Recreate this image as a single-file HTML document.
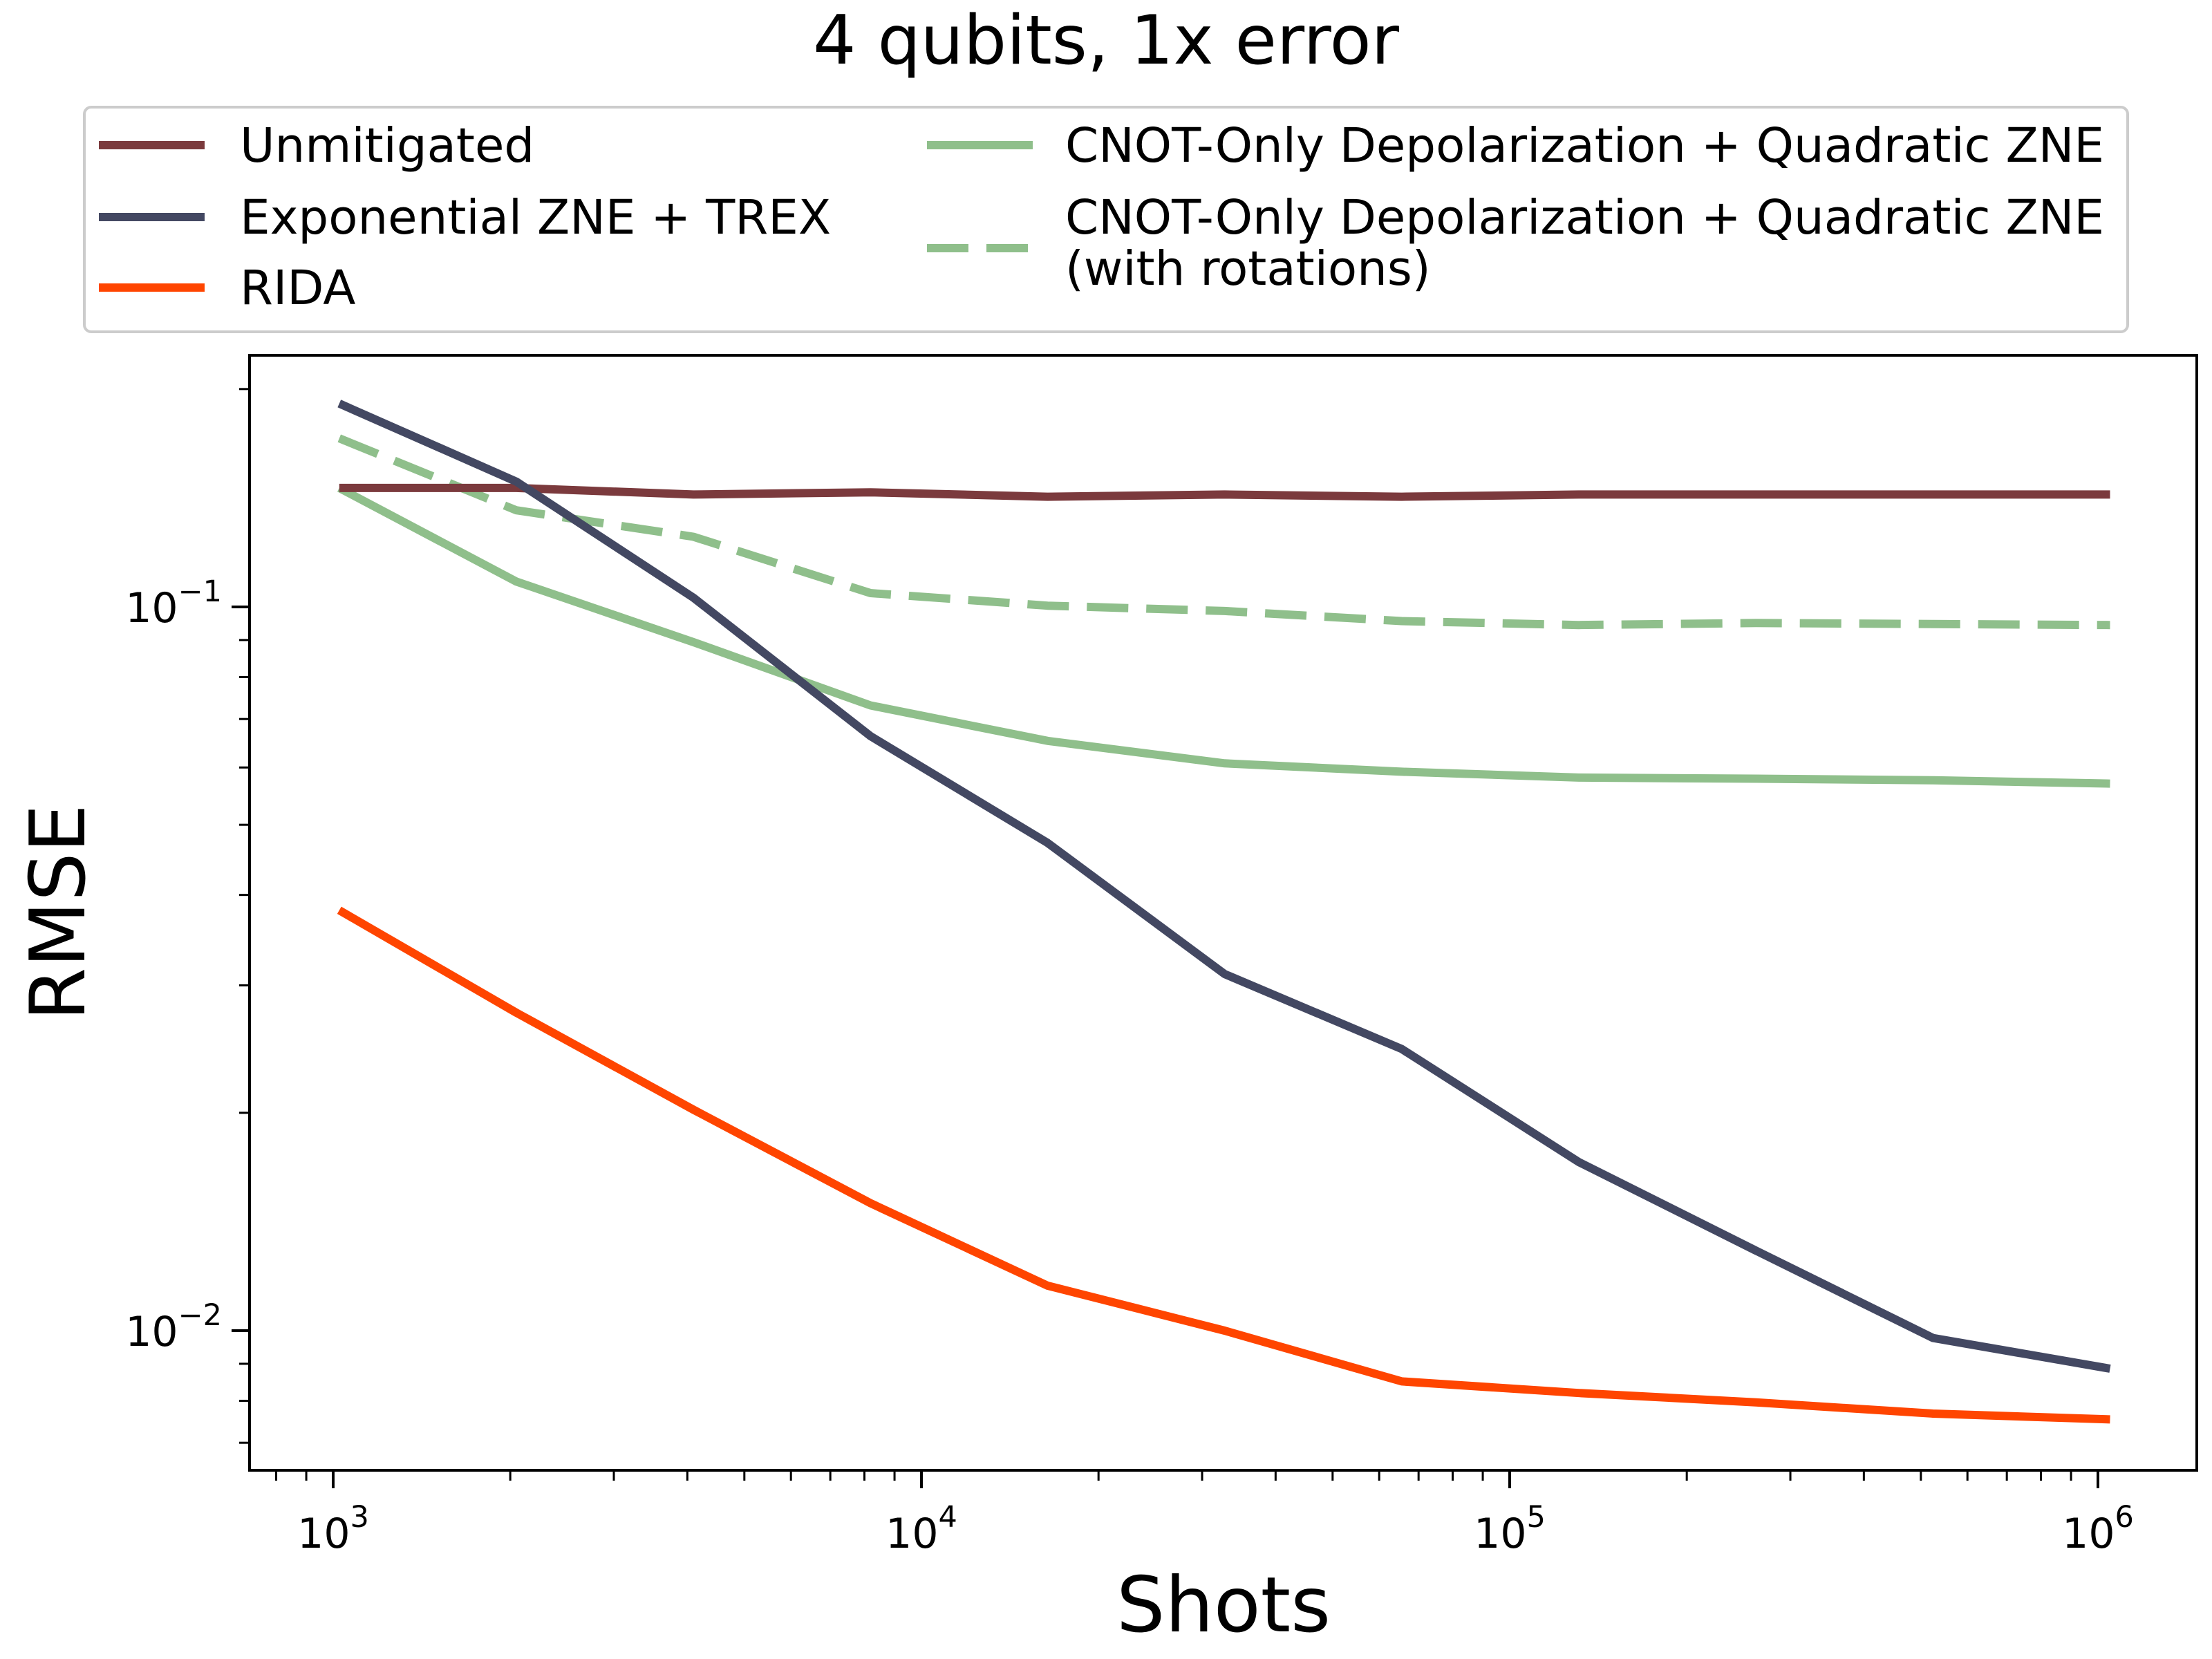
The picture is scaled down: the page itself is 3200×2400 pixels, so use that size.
<!DOCTYPE html>
<html><head><meta charset="utf-8"><style>
html,body{margin:0;padding:0;background:#fff}
svg{display:block}
text{font-family:"DejaVu Sans","Liberation Sans",sans-serif;fill:#000}
</style></head><body>
<svg id="chart" width="3200" height="2400" viewBox="0 0 3200 2400">
<rect width="3200" height="2400" fill="#fff"/>
<text x="1600" y="92" font-size="98" text-anchor="middle">4 qubits, 1x error</text>
<g id="plot"></g>
<g id="axes"></g>
<text x="1770" y="2360" font-size="111" text-anchor="middle">Shots</text>
<text transform="translate(122,1320) rotate(-90)" font-size="111" text-anchor="middle">RMSE</text>
<g>
<rect x="122" y="155" width="2956" height="325" rx="10" fill="#fff" stroke="#ccc" stroke-width="4"/>
<g>
<line x1="143" y1="210" x2="296" y2="210" stroke="#7b3a3d" stroke-width="12"/>
<text x="347" y="234" font-size="69">Unmitigated</text></g>
<g>
<line x1="143" y1="314" x2="296" y2="314" stroke="#434862" stroke-width="12"/>
<text x="347" y="338" font-size="69">Exponential ZNE + TREX</text></g>
<g>
<line x1="143" y1="416" x2="296" y2="416" stroke="#ff4500" stroke-width="12"/>
<text x="347" y="440" font-size="69">RIDA</text></g>
<g>
<line x1="1341" y1="210" x2="1494" y2="210" stroke="#8fbf8b" stroke-width="12"/>
<text x="1541" y="234" font-size="69">CNOT-Only Depolarization + Quadratic ZNE</text></g>
<g>
<line x1="1341" y1="359" x2="1494" y2="359" stroke="#8fbf8b" stroke-width="12" stroke-dasharray="60 26"/>
<text x="1541" y="338" font-size="69">CNOT-Only Depolarization + Quadratic ZNE</text>
<text x="1541" y="412" font-size="69">(with rotations)</text></g>
</g>
</svg>
<script>
const shots = [1024,2048,4096,8192,16384,32768,65536,131072,262144,524288,1048576];
const unmitigated = [0.146,0.146,0.143,0.144,0.142,0.143,0.142,0.143,0.143,0.143,0.143];
const expZneTrex = [0.191,0.149,0.103,0.0663,0.0472,0.0311,0.0245,0.0171,0.0129,0.00977,0.00886];
const rida = [0.0381,0.0275,0.0202,0.0150,0.01154,0.0100,0.00851,0.0082,0.00796,0.00768,0.00754];
const cnotQuadratic = [0.146,0.1084,0.0894,0.0731,0.0653,0.0608,0.0592,0.0581,0.0579,0.0576,0.0570];
const cnotQuadraticRot = [0.171,0.136,0.125,0.1045,0.1004,0.0987,0.0956,0.0944,0.095,0.0947,0.0944];
const xTickLabels = ["3","4","5","6"];
const yTickLabels = ["-1","-2"];

const NS="http://www.w3.org/2000/svg";
const L=361,R=3178,T=514,B=2127;
function xs(v){return 482+851*(Math.log10(v)-3);}
function ys(v){return 878-1047*(Math.log10(v)+1);}
const plot=document.getElementById('plot'), axes=document.getElementById('axes');
function mk(tag,attrs,parent){const e=document.createElementNS(NS,tag);for(const k in attrs)e.setAttribute(k,attrs[k]);parent.appendChild(e);return e;}
const series=[
 [unmitigated,'#7b3a3d',null,'line-unmitigated'],
 [expZneTrex,'#434862',null,'line-exponential-zne-trex'],
 [rida,'#ff4500',null,'line-rida'],
 [cnotQuadratic,'#8fbf8b',null,'line-cnot-quadratic'],
 [cnotQuadraticRot,'#8fbf8b','60 26','line-cnot-quadratic-rotations']
];
const order=[3,4,0,1,2];
order.forEach(i=>{
 const s=series[i];
 const pts=s[0].map((v,j)=>xs(shots[j]).toFixed(1)+','+ys(v).toFixed(1)).join(' ');
 const p=mk('polyline',{points:pts,fill:'none',stroke:s[1],'stroke-width':12,'stroke-linejoin':'round'},plot);
 if(s[2])p.setAttribute('stroke-dasharray',s[2]);
 
 
});
const frame=mk('rect',{x:L,y:T,width:R-L,height:B-T,fill:'none',stroke:'#000','stroke-width':4},axes);


for(let d=2;d<=6;d++){for(let m=1;m<10;m++){const v=m*Math.pow(10,d);const x=xs(v);if(x<L||x>R)continue;
 const major=m===1;mk('line',{x1:x,y1:B,x2:x,y2:B+(major?26:15),stroke:'#000','stroke-width':major?4:3},axes);}}
xTickLabels.forEach(e=>{const x=xs(Math.pow(10,+e));
 const t=mk('text',{x:x,y:B+112,'font-size':60,'text-anchor':'middle'},axes);
 
 
 t.appendChild(document.createTextNode('10'));
 const sp=mk('tspan',{dy:-30,'font-size':43},t);sp.textContent=e;});
for(let d=-3;d<=-1;d++){for(let m=1;m<10;m++){const v=m*Math.pow(10,d);const y=ys(v);if(y<T||y>B)continue;
 const major=m===1;mk('line',{x1:L,y1:y,x2:L-(major?26:15),y2:y,stroke:'#000','stroke-width':major?4:3},axes);}}
yTickLabels.forEach(e=>{const y=ys(Math.pow(10,+e));
 const t=mk('text',{x:L-40,y:y+22,'font-size':60,'text-anchor':'end'},axes);
 
 
 t.appendChild(document.createTextNode('10'));
 const sp=mk('tspan',{dy:-30,'font-size':43},t);sp.textContent=e.replace('-','\u2212');});
</script>
</body></html>
